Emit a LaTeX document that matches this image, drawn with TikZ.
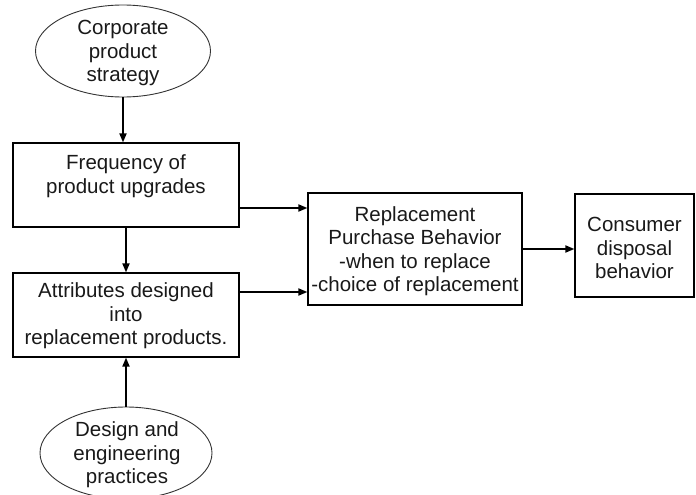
\documentclass[tikz,border=0pt]{standalone}
\usepackage{fontspec}
\setmainfont{Liberation Sans}
\usetikzlibrary{shapes.geometric,arrows.meta}
\begin{document}
\begin{tikzpicture}[x=1pt,y=-1pt,
  every node/.style={font=\fontsize{20.5}{23.5}\selectfont, text=black!90, align=center, inner sep=0pt},
  boxnode/.style={draw=black, line width=1.2pt, rectangle},
  ovalnode/.style={draw=black!80, line width=0.9pt, ellipse},
  arr/.style={line width=1.8pt, -{Triangle[length=9pt,width=7pt]}}]
\useasboundingbox (0,0) rectangle (696,495);
% shapes
\node[ovalnode, minimum width=175pt, minimum height=92pt] (corp) at (123,51) {};
\node at (123,53) {Corporate\\product\\strategy};
\node[boxnode, minimum width=226pt, minimum height=84pt] (freq) at (126,185) {};
\node at (126,176) {Frequency of\\product upgrades};
\node[boxnode, minimum width=226pt, minimum height=84pt] (attr) at (126,315) {};
\node at (126,316) {Attributes designed\\into\\replacement products.};
\node[ovalnode, minimum width=172pt, minimum height=92pt] (design) at (126,453) {};
\node at (127,455) {Design and\\engineering\\practices};
\node[boxnode, minimum width=214pt, minimum height=112pt] (repl) at (415,249) {};
\node at (415,251) {Replacement\\Purchase Behavior\\-when to replace\\-choice of replacement};
\node[boxnode, minimum width=119pt, minimum height=103pt] (cons) at (634.5,245.5) {};
\node at (634.5,248) {Consumer\\disposal\\behavior};
% connectors
\draw[arr] (corp.south) -- (corp.south |- freq.north);
\draw[arr] (freq.south) -- (attr.north);
\draw[arr] (design.north) -- (attr.south);
\draw[arr] ([yshift=-23pt]freq.east) -- ([yshift=-23pt]freq.east -| repl.west);
\draw[arr] ([yshift=23pt]attr.east) -- ([yshift=23pt]attr.east -| repl.west);
\draw[arr] (repl.east) -- (repl.east -| cons.west);
\end{tikzpicture}
\end{document}
